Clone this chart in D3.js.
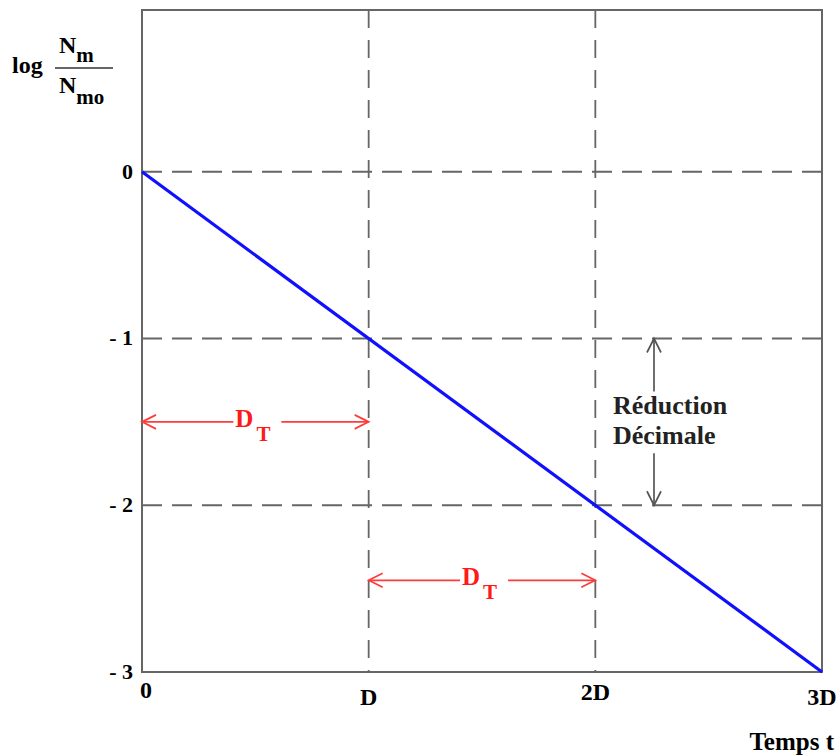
<!DOCTYPE html>
<html>
<head>
<meta charset="utf-8">
<script src="https://cdn.jsdelivr.net/npm/d3@7"></script>
<style>
  body { margin: 0; background: #fff; }
  text { font-family: "Liberation Serif", "Times New Roman", serif; font-weight: bold; }
</style>
</head>
<body>
<script>
// chart values
var xTicks = [0, 1, 2, 3],
    xLabels = ["0", "D", "2D", "3D"];
var yTicks = [0, -1, -2, -3],
    yLabels = ["0", "- 1", "- 2", "- 3"];
var gridX = [1, 2],
    gridY = [0, -1, -2];
var lineData = [[0, 0], [3, -3]];
// D_T spans: [from, to, level]
var dtSpans = [[0, 1, -1.5], [1, 2, -2.45]];
var reduction = [-1, -2];

var width = 840, height = 756;

var svg = d3.select("body").append("svg")
    .attr("width", width)
    .attr("height", height);

var x = d3.scaleLinear().domain([0, 3]).range([142, 822]);
var y = d3.scaleLinear().domain([-3, 0.97]).range([672, 10]);

var grey = "#666";

// dashed grid
svg.selectAll(".gx").data(gridX).enter().append("line")
    .attr("x1", function(d) { return x(d); })
    .attr("x2", function(d) { return x(d); })
    .attr("y1", y.range()[1])
    .attr("y2", y.range()[0])
    .style("stroke", grey).style("stroke-width", 1.8)
    .style("stroke-dasharray", "18,12");

svg.selectAll(".gy").data(gridY).enter().append("line")
    .attr("x1", x.range()[0])
    .attr("x2", x.range()[1])
    .attr("y1", function(d) { return y(d); })
    .attr("y2", function(d) { return y(d); })
    .style("stroke", grey).style("stroke-width", 1.8)
    .style("stroke-dasharray", "20,10");

// frame
svg.append("rect")
    .attr("x", x.range()[0]).attr("y", y.range()[1])
    .attr("width", x.range()[1] - x.range()[0])
    .attr("height", y.range()[0] - y.range()[1])
    .style("fill", "none").style("stroke", grey).style("stroke-width", 2);

// y labels
svg.selectAll(".yl").data(yTicks).enter().append("text")
    .attr("x", x(0) - 9)
    .attr("y", function(d) { return y(d) + 7; })
    .attr("text-anchor", "end")
    .style("font-size", "22px")
    .text(function(d, i) { return yLabels[i]; });

// x labels
var xOff = [26, 33, 28, 33];
svg.selectAll(".xl").data(xTicks).enter().append("text")
    .attr("x", function(d, i) { return x(d) + (i == 0 ? 4 : 0); })
    .attr("y", function(d, i) { return y(-3) + xOff[i]; })
    .attr("text-anchor", "middle")
    .style("font-size", "24px")
    .text(function(d, i) { return xLabels[i]; });

svg.append("text")
    .attr("x", 834).attr("y", 750)
    .attr("text-anchor", "end")
    .style("font-size", "25px")
    .text("Temps t");

// y axis title: log Nm / Nmo
var title = svg.append("g");
title.append("text").attr("x", 12).attr("y", 73).style("font-size", "24px").text("log");
var num = title.append("text").attr("x", 59).attr("y", 53).style("font-size", "24px");
num.append("tspan").text("N");
num.append("tspan").attr("dy", 9).style("font-size", "21px").text("m");
title.append("line").attr("x1", 55).attr("x2", 113).attr("y1", 68).attr("y2", 68)
    .style("stroke", "#333").style("stroke-width", 1.5);
var den = title.append("text").attr("x", 59).attr("y", 93).style("font-size", "24px");
den.append("tspan").text("N");
den.append("tspan").attr("dy", 11).style("font-size", "21px").text("mo");

// blue line
svg.append("path")
    .datum(lineData)
    .attr("d", d3.line().x(function(d) { return x(d[0]); }).y(function(d) { return y(d[1]); }))
    .style("fill", "none").style("stroke", "#1010ff").style("stroke-width", 3.2);

// arrow helpers
function head(px, py, dx, dy, color) {
    // open chevron at (px,py) pointing in direction (dx,dy)
    var L = 14, W = 7;
    var nx = -dy, ny = dx;
    var p = [[px - dx * L + nx * W, py - dy * L + ny * W], [px, py], [px - dx * L - nx * W, py - dy * L - ny * W]];
    svg.append("path").attr("d", d3.line()(p))
        .style("fill", "none").style("stroke", color).style("stroke-width", 1.7);
}

var red = "#ff3b3b";
dtSpans.forEach(function(s) {
    var x1 = x(s[0]), x2 = x(s[1]), yy = y(s[2]), cx = (x1 + x2) / 2;
    svg.append("line").attr("x1", x1).attr("x2", cx - 22).attr("y1", yy).attr("y2", yy)
        .style("stroke", red).style("stroke-width", 1.7);
    svg.append("line").attr("x1", cx + 26).attr("x2", x2).attr("y1", yy).attr("y2", yy)
        .style("stroke", red).style("stroke-width", 1.7);
    head(x1, yy, -1, 0, red);
    head(x2, yy, 1, 0, red);
    var t = svg.append("text").attr("x", cx - 20).attr("y", yy + 5)
        .style("fill", "#ff1a1a").style("font-size", "25px");
    t.append("tspan").text("D");
    t.append("tspan").attr("dx", 3).attr("dy", 14).style("font-size", "21px").text("T");
});

// réduction décimale arrow
var ax = 654, ya = y(reduction[0]), yb = y(reduction[1]);
var dark = "#555";
svg.append("line").attr("x1", ax).attr("x2", ax).attr("y1", ya).attr("y2", ya + 53)
    .style("stroke", dark).style("stroke-width", 1.7);
svg.append("line").attr("x1", ax).attr("x2", ax).attr("y1", yb - 52).attr("y2", yb)
    .style("stroke", dark).style("stroke-width", 1.7);
head(ax, ya, 0, -1, dark);
head(ax, yb, 0, 1, dark);
svg.append("text").attr("x", 613).attr("y", 414).style("font-size", "26px").style("fill", "#222").text("Réduction");
svg.append("text").attr("x", 613).attr("y", 444).style("font-size", "26px").style("fill", "#222").text("Décimale");
</script>
</body>
</html>
